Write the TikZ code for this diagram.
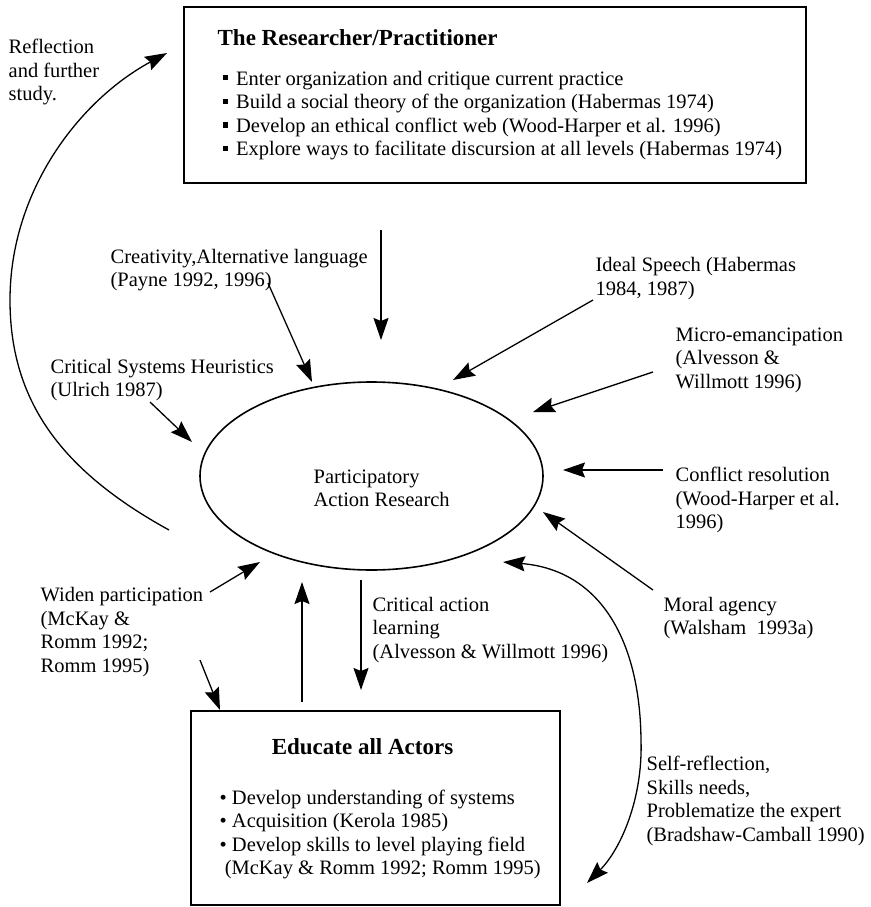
\documentclass[tikz,border=0pt]{standalone}
\usepackage{fontspec}
\setmainfont{Liberation Serif}
\usetikzlibrary{arrows.meta,shapes.geometric}

\tikzset{every picture/.style={line width=1.3pt}}
\tikzset{
	lbl/.style={anchor=west, align=left, inner sep=0pt, font=\fontsize{20.5}{23.6}\selectfont},
	ttl/.style={anchor=west, inner sep=0pt, font=\fontsize{23}{27}\selectfont\bfseries},
	frame/.style={draw, line width=1.6pt},
	arr/.style={-{Stealth[length=22pt,width=15pt,inset=3pt]}},
	darr/.style={{Stealth[length=22pt,width=15pt,inset=3pt]}-{Stealth[length=22pt,width=15pt,inset=3pt]}}
}
\newcommand{\sqbul}{\raisebox{0.22em}{\rule{0.26em}{0.26em}}\hspace{0.4em}}

\begin{document}
\begin{tikzpicture}[x=1pt,y=1pt,yscale=-1,xscale=1]
	\useasboundingbox (0,0) rectangle (870,907);

	%Rect [researcher]
	\draw [frame] (184,7) rectangle (806,183);
	% Text Node
	\node [ttl] (restitle) at (217,38) {The Researcher/Practitioner};
	% Text Node
	\node [lbl] (reslist) at (222,115.5) {\sqbul Enter organization and critique current practice\\
		\sqbul Build a social theory of the organization (Habermas 1974)\\
		\sqbul Develop an ethical conflict web (Wood-Harper et al. 1996)\\
		\sqbul Explore ways to facilitate discursion at all levels (Habermas 1974)};

	%Ellipse [PAR]
	\node [ellipse, frame, minimum width=343pt, minimum height=188pt, inner sep=0pt] (par) at (371.5,476) {};
	% Text Node
	\node [lbl] (partxt) at (313,488.5) {Participatory\\Action Research};

	%Rect [educate]
	\draw [frame] (191,711) rectangle (560,905);
	% Text Node
	\node [ttl, anchor=center] (edutitle) at (362.5,747) {Educate all Actors};
	% Text Node
	\node [lbl] (edulist) at (219,834.5) {• Develop understanding of systems\\
		• Acquisition (Kerola 1985)\\
		• Develop skills to level playing field\\
		\ (McKay \& Romm 1992; Romm 1995)};

	% Text Node
	\node [lbl] (refl) at (8,72) {Reflection\\and further\\study.};
	% Text Node
	\node [lbl] (creat) at (110,270) {Creativity,Alternative language\\(Payne 1992, 1996)};
	% Text Node
	\node [lbl] (ideal) at (595,278.5) {Ideal Speech (Habermas\\1984, 1987)};
	% Text Node
	\node [lbl] (micro) at (675,360) {Micro-emancipation\\(Alvesson \&\\Willmott 1996)};
	% Text Node
	\node [lbl] (csh) at (50,380) {Critical Systems Heuristics\\(Ulrich 1987)};
	% Text Node
	\node [lbl] (confl) at (675,500) {Conflict resolution\\(Wood-Harper et al.\\1996)};
	% Text Node
	\node [lbl] (moral) at (663,618) {Moral agency\\(Walsham\ \ 1993a)};
	% Text Node
	\node [lbl] (widen) at (40,632) {Widen participation\\(McKay \&\\Romm 1992;\\Romm 1995)};
	% Text Node
	\node [lbl] (cal) at (372,630) {Critical action\\learning\\(Alvesson \& Willmott 1996)};
	% Text Node
	\node [lbl] (self) at (646,801) {Self-reflection,\\Skills needs,\\Problematize the expert\\(Bradshaw-Camball 1990)};

	% arrow ends
	\coordinate (rs) at (169,530);  \coordinate (rt) at (167,53);
	\coordinate (cs) at (268,283);  \coordinate (ct) at (312,382);
	\coordinate (ds) at (381,230);  \coordinate (dt) at (381,340);
	\coordinate (is) at (593,300);  \coordinate (it) at (453,380);
	\coordinate (ms) at (653,372);  \coordinate (mt) at (533,412);
	\coordinate (hs) at (150,402);  \coordinate (ht) at (192,442);
	\coordinate (fs) at (663,470);  \coordinate (ft) at (563,470);
	\coordinate (as) at (653,590);  \coordinate (at) at (543,512);
	\coordinate (st) at (503,562);  \coordinate (sb) at (587,883);
	\coordinate (ws) at (210,592);  \coordinate (wt) at (260,562);
	\coordinate (es) at (200,660);  \coordinate (et) at (220,710);
	\coordinate (us) at (302,702);  \coordinate (ut) at (302,582);
	\coordinate (ls) at (361,580);  \coordinate (lt) at (361,690);

	% Curve [reflection]
	\draw [arr] (rs) .. controls (60,470) and (10,400) .. (10,300) .. controls (10,190) and (80,100) .. (rt);
	% Curve [self-reflection]
	\draw [darr] (st) .. controls (600,570) and (640,640) .. (641,740) .. controls (643,800) and (620,850) .. (sb);

	% Straight arrows
	\draw [arr] (cs) -- (ct);
	\draw [arr] (ds) -- (dt);
	\draw [arr] (is) -- (it);
	\draw [arr] (ms) -- (mt);
	\draw [arr] (hs) -- (ht);
	\draw [arr] (fs) -- (ft);
	\draw [arr] (as) -- (at);
	\draw [arr] (ws) -- (wt);
	\draw [arr] (es) -- (et);
	\draw [arr] (us) -- (ut);
	\draw [arr] (ls) -- (lt);

\end{tikzpicture}
\end{document}
